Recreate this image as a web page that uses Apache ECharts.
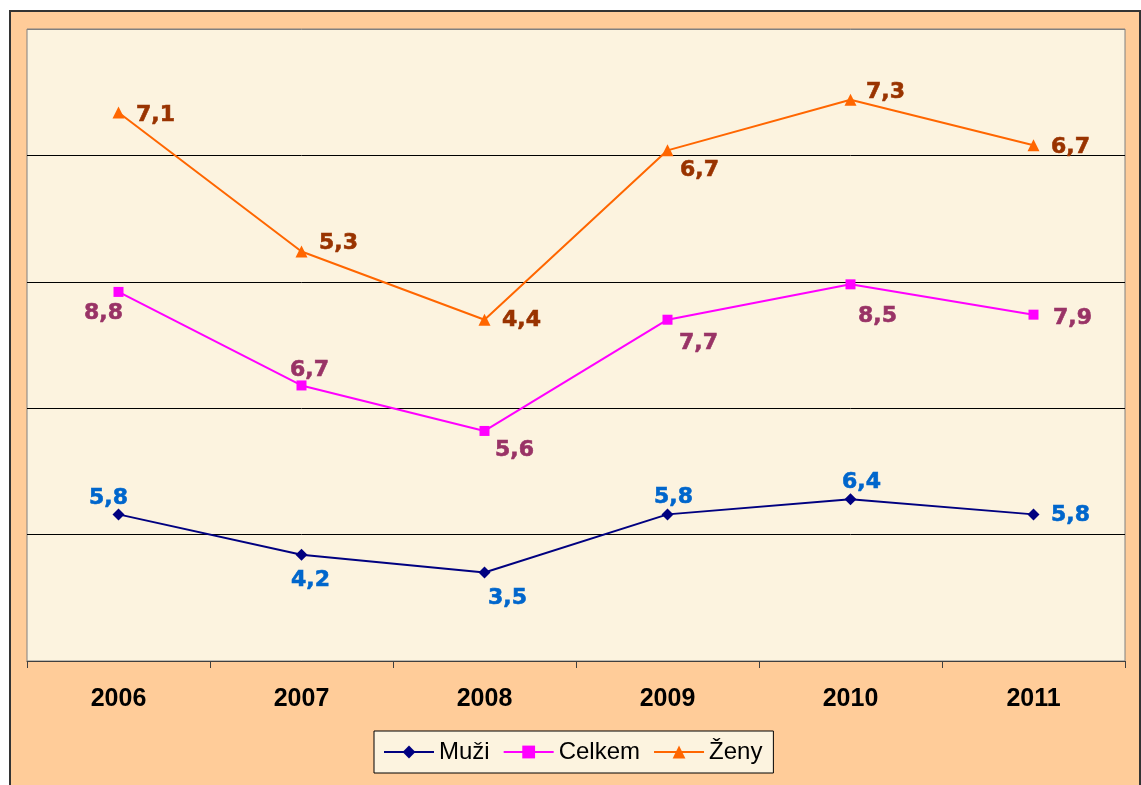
<!DOCTYPE html>
<html>
<head>
<meta charset="utf-8">
<script src="https://cdn.jsdelivr.net/npm/echarts@6/dist/echarts.min.js"></script>
<style>
html,body{margin:0;padding:0;background:#fff;}
#chart{width:1141px;height:785px;}
</style>
</head>
<body>
<div id="chart"></div>
<script>
// Categories and values (stacked line chart)
const categories = ['2006', '2007', '2008', '2009', '2010', '2011'];
const muzi   = [5.8, 4.2, 3.5, 5.8, 6.4, 5.8];
const celkem = [8.8, 6.7, 5.6, 7.7, 8.5, 7.9];
const zeny   = [7.1, 5.3, 4.4, 6.7, 7.3, 6.7];
const seriesNames = ['Muži', 'Celkem', 'Ženy'];

// Label offsets (pixel offsets of each value label from its marker)
const muziLabelOffsets   = [[-10, -16], [9, 25], [23, 26], [6, -17], [11, -17], [37, 1]];
const celkemLabelOffsets = [[-15, 21], [8, -15], [30, 19], [31, 24], [27, 32], [39, 4]];
const zenyLabelOffsets   = [[37, 3], [37, -8], [37, 1], [32, 20], [35, -8], [37, 2]];

const labelFont = 'DejaVu Sans';
function fmt(p) { return Number(p.value).toFixed(1).replace('.', ','); }

function buildData(values, offsets) {
  return values.map((v, i) => ({ value: v, label: { offset: offsets[i] } }));
}

function makeSeries(name, values, offsets, lineColor, labelColor, symbol, symbolSize) {
  return {
    name: name,
    type: 'line',
    stack: 'total',
    data: buildData(values, offsets),
    symbol: symbol,
    symbolSize: symbolSize,
    lineStyle: { color: lineColor, width: 2 },
    itemStyle: { color: lineColor },
    label: {
      show: true,
      position: 'inside',
      formatter: fmt,
      color: labelColor,
      fontFamily: labelFont,
      fontWeight: 'bold',
      fontSize: 22,
      textBorderColor: labelColor,
      textBorderWidth: 0.6
    },
    emphasis: { disabled: true },
    animation: false
  };
}

const chart = echarts.init(document.getElementById('chart'));
chart.setOption({
  backgroundColor: '#ffffff',
  animation: false,
  graphic: [{
    type: 'rect',
    z: -10,
    silent: true,
    shape: { x: 10, y: 11, width: 1130, height: 800 },
    style: { fill: '#FFCC99', stroke: '#333333', lineWidth: 2 }
  }],
  grid: {
    left: 27, right: 16, top: 29, bottom: 124,
    show: true,
    backgroundColor: '#FCF3DF',
    borderColor: '#808080',
    borderWidth: 1
  },
  legend: {
    data: seriesNames,
    left: 374, top: 731,
    padding: [9, 11, 9, 9],
    itemWidth: 50,
    itemHeight: 16,
    itemGap: 13,
    backgroundColor: '#FCF3DF',
    borderColor: '#000000',
    borderWidth: 1,
    textStyle: { fontFamily: 'Liberation Sans', fontSize: 24, color: '#000' }
  },
  xAxis: {
    type: 'category',
    data: categories,
    boundaryGap: true,
    axisLine: { lineStyle: { color: '#404040', width: 1 } },
    axisTick: { show: true, length: 7, lineStyle: { color: '#404040' } },
    axisLabel: {
      margin: 26,
      color: '#000',
      fontFamily: 'Liberation Sans',
      fontWeight: 'bold',
      fontSize: 25
    },
    splitLine: { show: false }
  },
  yAxis: {
    type: 'value',
    min: 0, max: 25, interval: 5,
    axisLine: { show: false },
    axisTick: { show: false },
    axisLabel: { show: false },
    splitLine: { lineStyle: { color: ['#000', '#000', '#000', '#000', '#000', '#808080'], width: 1 } }
  },
  series: [
    makeSeries(seriesNames[0], muzi, muziLabelOffsets, '#000080', '#0066CC', 'diamond', 12),
    makeSeries(seriesNames[1], celkem, celkemLabelOffsets, '#FF00FF', '#993366', 'rect', 10),
    makeSeries(seriesNames[2], zeny, zenyLabelOffsets, '#FF6600', '#993300', 'triangle', 12)
  ]
});
</script>
</body>
</html>
